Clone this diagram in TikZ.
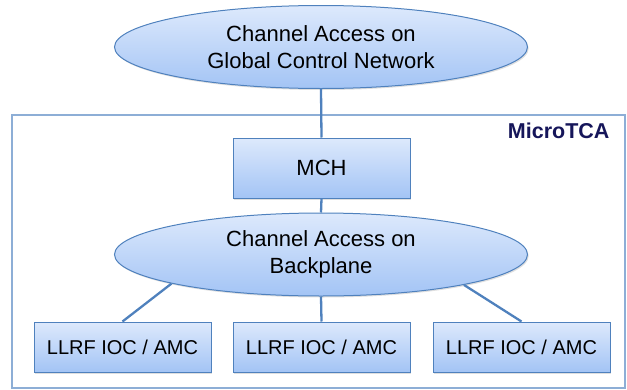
\documentclass[tikz,border=0pt]{standalone}
\usepackage{fontspec}
\setmainfont{Liberation Sans}
\usetikzlibrary{shapes.geometric,shadows}
\definecolor{edgeblue}{HTML}{4F81BD}
\definecolor{frameblue}{HTML}{8DAED6}
\definecolor{filltop}{HTML}{DDE9FC}
\definecolor{fillbot}{HTML}{A3C4F5}
\definecolor{navy}{HTML}{16165A}
\tikzset{
  shapefill/.style={draw=edgeblue, line width=1pt, top color=filltop, bottom color=fillbot,
    drop shadow={shadow xshift=1.2pt, shadow yshift=-1.5pt, opacity=0.25}},
  ell/.style={shapefill, ellipse, inner sep=0pt, minimum width=413pt, minimum height=83pt,
    align=center, font=\fontsize{22}{27}\selectfont},
  rbox/.style={shapefill, rectangle, inner sep=0pt, minimum width=177pt, minimum height=50pt,
    font=\fontsize{20}{24}\selectfont},
  mchbox/.style={rbox, minimum height=60pt, font=\fontsize{22}{26}\selectfont},
  conn/.style={draw=edgeblue, line width=2.3pt},
}
\begin{document}
\begin{tikzpicture}[x=1pt,y=-1pt]
\useasboundingbox (0,0) rectangle (627,389);
\node[draw=frameblue, line width=1.2pt, minimum width=613pt, minimum height=273pt, inner sep=0pt] (frame) at (318.5,251.5) {};
\node[anchor=base east, font=\bfseries\fontsize{21.5}{26}\selectfont, text=navy] (lbl) at (613,138) {MicroTCA};
\node[ell] (gcn) at (321,47) {Channel Access on\\Global Control Network};
\node[mchbox] (mch) at (321.5,168) {MCH};
\node[ell] (bp) at (321,254.5) {Channel Access on\\Backplane};
\node[rbox] (a1) at (122.5,347) {LLRF IOC / AMC};
\node[rbox] (a2) at (321.5,347) {LLRF IOC / AMC};
\node[rbox] (a3) at (521.5,347) {LLRF IOC / AMC};
\draw[conn] (gcn.south) -- (mch.north);
\draw[conn] (mch.south) -- (bp.north);
\draw[conn] (bp.191.5) -- (a1.north);
\draw[conn] (bp.south) -- (a2.north);
\draw[conn] (bp.348.5) -- (a3.north);
\end{tikzpicture}
\end{document}
